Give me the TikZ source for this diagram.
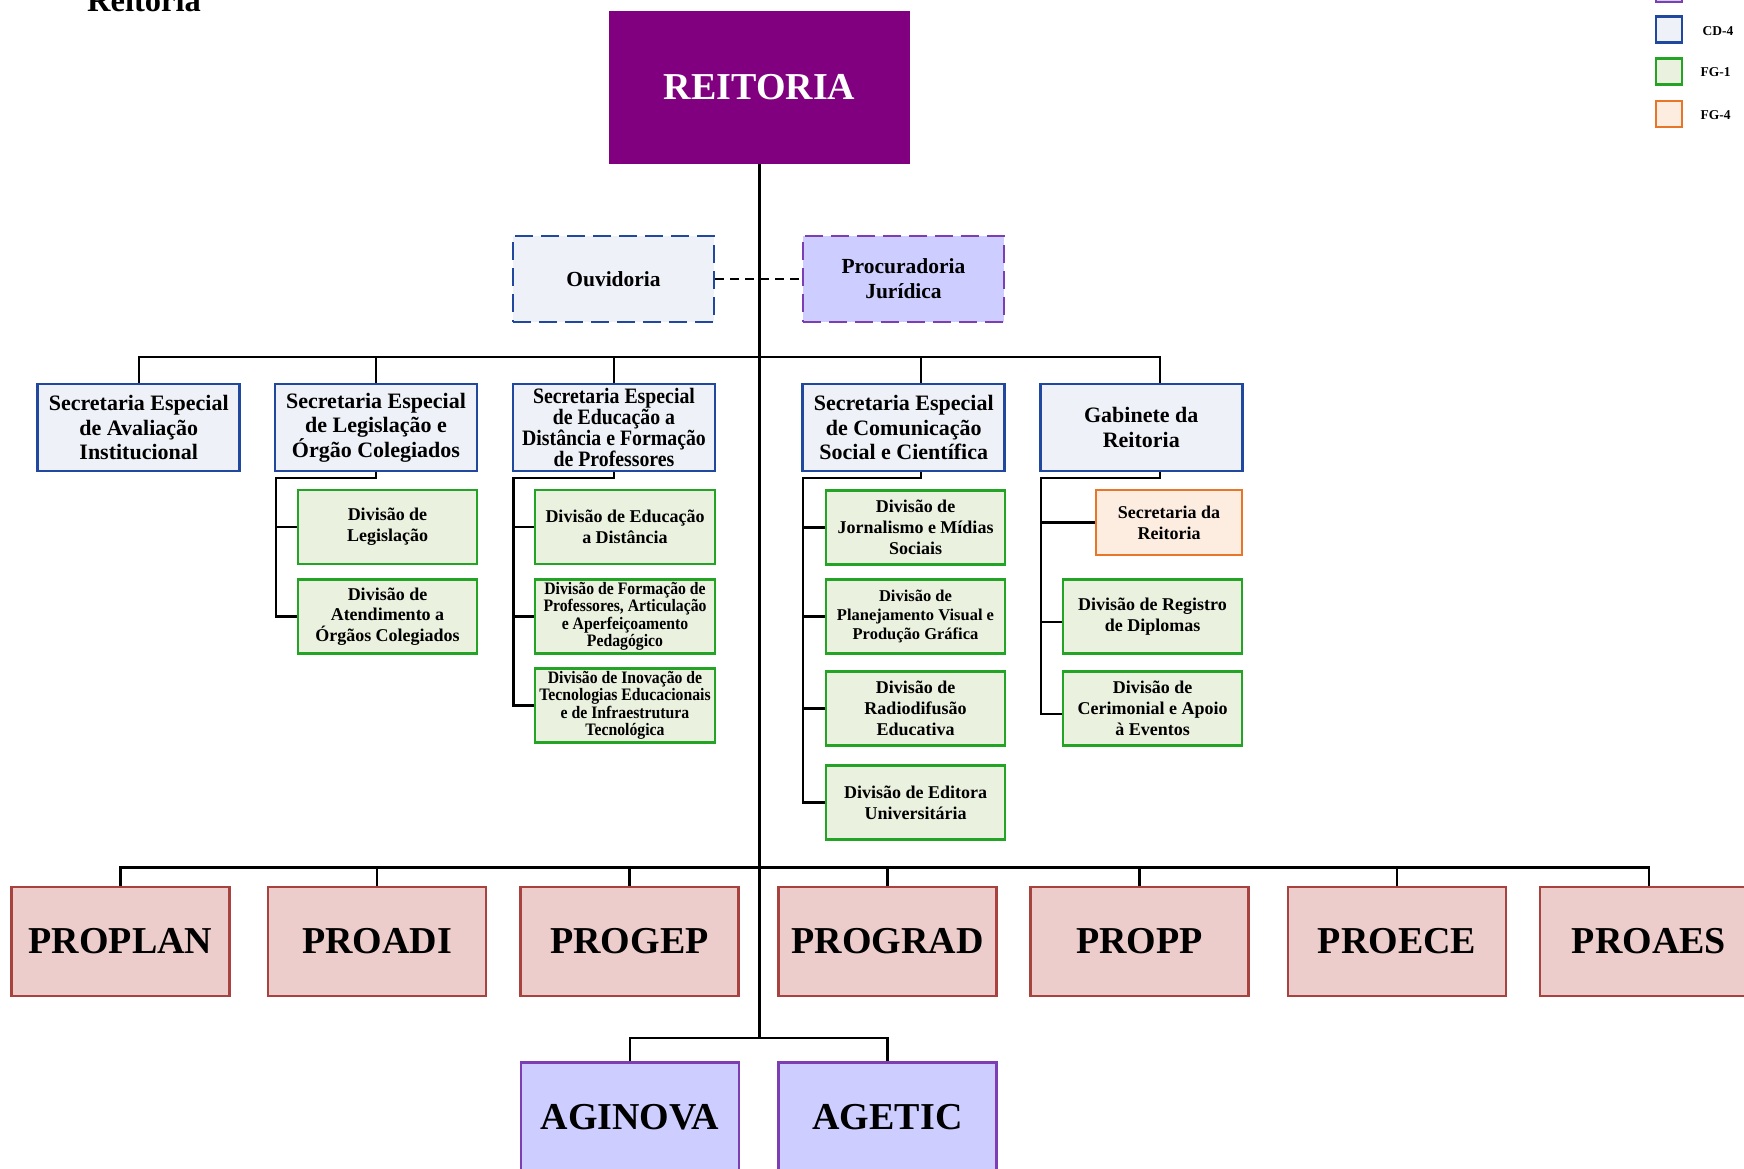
\documentclass[tikz,border=0pt]{standalone}
\usepackage{fontspec}
\setmainfont{Liberation Serif}
\newfontfamily\narrowserif[FakeStretch=0.9]{Liberation Serif}

\definecolor{reitpurple}{RGB}{128,0,128}
\definecolor{cdline}{RGB}{32,72,158}
\definecolor{cdfill}{RGB}{238,241,247}
\definecolor{fgline}{RGB}{36,164,36}
\definecolor{fgfill}{RGB}{234,241,222}
\definecolor{fgfourline}{RGB}{232,118,40}
\definecolor{fgfourfill}{RGB}{253,237,224}
\definecolor{agline}{RGB}{124,62,178}
\definecolor{agfill}{RGB}{205,205,255}
\definecolor{proline}{RGB}{168,66,62}
\definecolor{profill}{RGB}{237,205,203}

\tikzset{
  conn/.style={line width=2.2pt, black},
  orgbox/.style={draw, line width=2.6pt, inner sep=0pt, align=center},
  reitbox/.style={orgbox, draw=reitpurple, fill=reitpurple, text=white,
    minimum width=299pt, minimum height=151pt,
    font=\fontsize{38}{40}\selectfont\bfseries},
  ouvbox/.style={orgbox, draw=cdline, fill=cdfill, dash pattern=on 18pt off 8pt,
    minimum width=201pt, minimum height=86pt,
    font=\fontsize{21.5}{25}\selectfont\bfseries},
  procbox/.style={orgbox, draw=agline, fill=agfill, dash pattern=on 18pt off 8pt,
    minimum width=201pt, minimum height=86pt,
    font=\fontsize{21.5}{25}\selectfont\bfseries},
  secbox/.style={orgbox, draw=cdline, fill=cdfill,
    minimum width=202pt, minimum height=87pt,
    font=\fontsize{22}{24.5}\selectfont\bfseries},
  secnarrow/.style={secbox, font=\narrowserif\fontsize{22}{20}\selectfont\bfseries},
  divbox/.style={orgbox, draw=fgline, fill=fgfill,
    minimum width=179pt, minimum height=74pt,
    font=\fontsize{18}{20.7}\selectfont\bfseries},
  divnarrow/.style={divbox, font=\narrowserif\fontsize{17.5}{17.5}\selectfont\bfseries},
  divsmall/.style={divbox, font=\fontsize{16.5}{19}\selectfont\bfseries},
  fgfourbox/.style={orgbox, draw=fgfourline, fill=fgfourfill,
    minimum width=146pt, minimum height=65pt,
    font=\fontsize{18}{20.7}\selectfont\bfseries},
  probox/.style={orgbox, draw=proline, fill=profill,
    minimum width=218pt, minimum height=109pt,
    font=\fontsize{38}{40}\selectfont\bfseries},
  agbox/.style={orgbox, draw=agline, fill=agfill,
    minimum width=218pt, minimum height=109pt,
    font=\fontsize{38}{40}\selectfont\bfseries},
  legsq/.style={draw, line width=2.4pt, inner sep=0pt, minimum size=26pt},
  leglabel/.style={inner sep=0pt, font=\fontsize{13.5}{14}\selectfont\bfseries},
}

\begin{document}
\begin{tikzpicture}[x=1pt, y=-1pt]
\useasboundingbox (0,0) rectangle (1744,1168);
\clip (0,0) rectangle (1744,1168);

% heading
\node[anchor=base west, inner sep=0pt, font=\fontsize{32.5}{34}\selectfont\bfseries]
  (heading) at (87,11) {Reitoria};

% legend
\node[legsq, draw=agline, fill=agfill] (lg0) at (1669,-11) {};
\node[legsq, draw=cdline, fill=cdfill] (lg1) at (1669,29.5) {};
\node[legsq, draw=fgline, fill=fgfill] (lg2) at (1669,71.4) {};
\node[legsq, draw=fgfourline, fill=fgfourfill] (lg3) at (1669,113.7) {};
\node[leglabel] (lt1) at (1718,31.5) {CD-4};
\node[leglabel] (lt2) at (1715.5,72) {FG-1};
\node[leglabel] (lt3) at (1715.5,115) {FG-4};

% top level
\node[reitbox] (reit) at (759.5,87.5) {REITORIA};
\node[ouvbox] (ouv) at (613.5,279) {Ouvidoria};
\node[procbox] (proc) at (903.5,279) {Procuradoria\\Jurídica};

% special secretariats
\node[secbox] (s1) at (138.75,427.5) {Secretaria Especial\\de Avaliação\\Institucional};
\node[secbox] (s2) at (376,427.5) {Secretaria Especial\\de Legislação e\\Órgão Colegiados};
\node[secnarrow] (s3) at (614,427.5) {Secretaria Especial\\de Educação a\\Distância e Formação\\de Professores};
\node[secbox] (s4) at (903.75,427.5) {Secretaria Especial\\de Comunicação\\Social e Científica};
\node[secbox] (s5) at (1141.25,427.5) {Gabinete da\\Reitoria};

% divisions
\node[divbox] (d2a) at (387.5,527) {Divisão de\\Legislação};
\node[divbox] (d2b) at (387.5,616.5) {Divisão de\\Atendimento a\\Órgãos Colegiados};

\node[divbox, minimum width=180pt] (d3a) at (625,527) {Divisão de Educação\\a Distância};
\node[divnarrow, minimum width=180pt] (d3b) at (625,616.5) {Divisão de Formação de\\Professores, Articulação\\e Aperfeiçoamento\\Pedagógico};
\node[divnarrow, minimum width=180pt] (d3c) at (625,705.5) {Divisão de Inovação de\\Tecnologias Educacionais\\e de Infraestrutura\\Tecnológica};

\node[divbox] (d4a) at (915.5,527.5) {Divisão de\\Jornalismo e Mídias\\Sociais};
\node[divsmall] (d4b) at (915.5,616.5) {Divisão de\\Planejamento Visual e\\Produção Gráfica};
\node[divbox] (d4c) at (915.5,708.5) {Divisão de\\Radiodifusão\\Educativa};
\node[divbox] (d4d) at (915.5,802.5) {Divisão de Editora\\Universitária};

\node[fgfourbox] (d5a) at (1169,522.5) {Secretaria da\\Reitoria};
\node[divbox] (d5b) at (1152.5,616.5) {Divisão de Registro\\de Diplomas};
\node[divbox] (d5c) at (1152.5,708.5) {Divisão de\\Cerimonial e Apoio\\à Eventos};

% pro-rectorates
\node[probox] (p1) at (120.5,941.3) {PROPLAN};
\node[probox] (p2) at (377,941.3) {PROADI};
\node[probox] (p3) at (629.5,941.3) {PROGEP};
\node[probox] (p4) at (887.5,941.3) {PROGRAD};
\node[probox] (p5) at (1139.5,941.3) {PROPP};
\node[probox] (p6) at (1397,941.3) {PROECE};
\node[probox] (p7) at (1649,941.3) {PROAES};

% agencies
\node[agbox] (ag1) at (630,1117) {AGINOVA};
\node[agbox] (ag2) at (887.5,1117) {AGETIC};

% junction points
\coordinate (secbus) at (759.5,357);
\coordinate (probus) at (759.5,867.5);
\coordinate (agbus) at (759.5,1038);
\coordinate (s4top) at ([xshift=17.25pt]s4.north);
\coordinate (s4bot) at ([xshift=17.25pt]s4.south);
\coordinate (s5top) at ([xshift=18.75pt]s5.north);
\coordinate (s5bot) at ([xshift=18.75pt]s5.south);
\coordinate (k2) at (276,478);
\coordinate (k3) at (513.5,478);
\coordinate (k4) at (803,478);
\coordinate (k5) at (1041,478);
\coordinate (t5b) at ([yshift=-5.5pt]d5b.west);
\coordinate (t5c) at ([yshift=-5.5pt]d5c.west);

% main trunk
\draw[conn] (reit.south) -- (agbus);
\draw[conn, dash pattern=on 9pt off 6pt] (ouv.east) -- (proc.west);

% secretariat bus
\draw[conn] (s1.north) |- (s5top |- secbus) -- (s5top);
\draw[conn] (s2.north) -- (s2.north |- secbus);
\draw[conn] (s3.north) -- (s3.north |- secbus);
\draw[conn] (s4top) -- (s4top |- secbus);

% division spines
\draw[conn] (s2.south) |- (k2) |- (d2b.west);
\draw[conn] (k2 |- d2a.west) -- (d2a.west);

\draw[conn] (s3.south) |- (k3) |- (d3c.west);
\draw[conn] (k3 |- d3a.west) -- (d3a.west);
\draw[conn] (k3 |- d3b.west) -- (d3b.west);

\draw[conn] (s4bot) |- (k4) |- (d4d.west);
\draw[conn] (k4 |- d4a.west) -- (d4a.west);
\draw[conn] (k4 |- d4b.west) -- (d4b.west);
\draw[conn] (k4 |- d4c.west) -- (d4c.west);

\draw[conn] (s5bot) |- (k5) |- (t5c);
\draw[conn] (k5 |- d5a.west) -- (d5a.west);
\draw[conn] (k5 |- t5b) -- (t5b);

% pro-rectorate bus
\draw[conn] (p1.north) |- (p7.north |- probus) -- (p7.north);
\foreach \n in {p2,p3,p4,p5,p6}
  \draw[conn] (\n.north) -- (\n.north |- probus);

% agency bus
\draw[conn] (ag1.north) |- (ag2.north |- agbus) -- (ag2.north);
\end{tikzpicture}
\end{document}
